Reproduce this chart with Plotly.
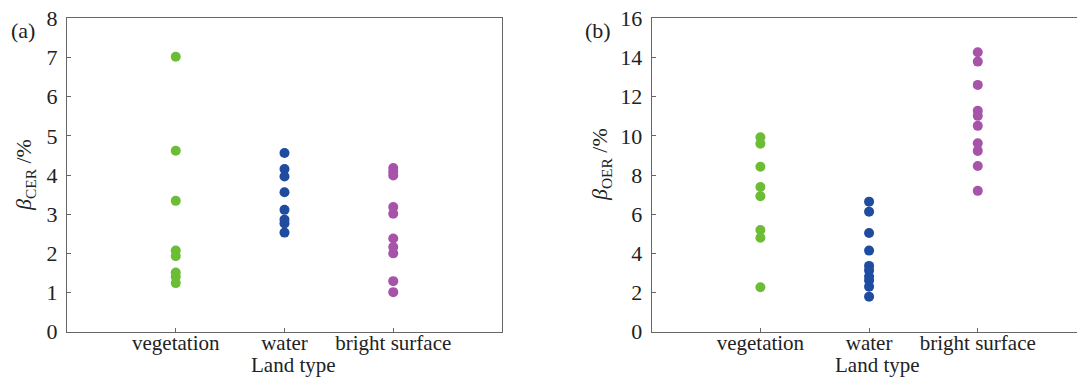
import plotly.graph_objects as go

categories = ["vegetation", "water", "bright surface"]
colors = ["#6cbd35", "#1f4c9e", "#a653a9"]

cer_vegetation = [7.02, 4.62, 3.34, 2.07, 1.93, 1.51, 1.40, 1.24]
cer_water = [4.56, 4.15, 3.96, 3.56, 3.11, 2.86, 2.76, 2.53]
cer_bright = [4.18, 4.08, 3.99, 3.18, 3.01, 2.38, 2.16, 2.00, 1.29, 1.01]

oer_vegetation = [9.93, 9.60, 8.42, 7.39, 6.92, 5.19, 4.80, 2.27]
oer_water = [6.64, 6.13, 5.04, 4.14, 3.36, 3.13, 2.82, 2.62, 2.30, 1.79]
oer_bright = [14.27, 13.79, 12.60, 11.28, 11.02, 10.51, 9.62, 9.23, 8.46, 7.19]

cer_ticks = [0, 1, 2, 3, 4, 5, 6, 7, 8]
oer_ticks = [0, 2, 4, 6, 8, 10, 12, 14, 16]

FONT = "Times New Roman, Liberation Serif, DejaVu Serif, serif"
TXT = "#222222"
LINE = "#666666"

fig = go.Figure()

for cat, col, vals in zip(categories, colors, [cer_vegetation, cer_water, cer_bright]):
    fig.add_trace(go.Scatter(x=[cat] * len(vals), y=vals, mode="markers",
                             marker=dict(color=col, size=10, line=dict(width=0)),
                             xaxis="x", yaxis="y", showlegend=False))
for cat, col, vals in zip(categories, colors, [oer_vegetation, oer_water, oer_bright]):
    fig.add_trace(go.Scatter(x=[cat] * len(vals), y=vals, mode="markers",
                             marker=dict(color=col, size=10, line=dict(width=0)),
                             xaxis="x2", yaxis="y2", showlegend=False))

W, H = 1077, 378
ybot = (H - 331.7) / H
ytop = (H - 18.3) / H

common_x = dict(type="category", categoryorder="array", categoryarray=categories,
                showline=True, linecolor=LINE, linewidth=1.3, mirror=True,
                ticks="inside", ticklen=4, tickcolor=LINE, showgrid=False, zeroline=False,
                tickfont=dict(family=FONT, size=21, color=TXT), ticklabelstandoff=-8,
                automargin=False)
common_y = dict(showline=True, linecolor=LINE, linewidth=1.3,
                ticks="inside", ticklen=4, tickcolor=LINE, showgrid=False, zeroline=False,
                tickfont=dict(family=FONT, size=22, color=TXT), ticklabelstandoff=4,
                automargin=False)

fig.update_layout(
    width=W, height=H,
    margin=dict(l=0, r=0, t=0, b=0, pad=0),
    paper_bgcolor="white", plot_bgcolor="white",
    font=dict(family=FONT, color=TXT),
    xaxis=dict(common_x, domain=[67 / W, 502 / W], range=[-1, 3], anchor="y"),
    yaxis=dict(common_y, domain=[ybot, ytop], range=[0, 8], tickvals=cer_ticks, mirror=True, anchor="x"),
    xaxis2=dict(common_x, domain=[651.7 / W, 1.0], range=[-1, 2.913], anchor="y2"),
    yaxis2=dict(common_y, domain=[ybot, ytop], range=[0, 16], tickvals=oer_ticks, mirror=False, anchor="x2"),
)

annotations = [
    dict(text="(a)", x=23, y=H - 30, ya="middle", size=22),
    dict(text="(b)", x=598, y=H - 30, ya="middle", size=22),
    dict(text="Land type", x=293, y=0, ya="bottom", size=21),
    dict(text="Land type", x=877, y=0, ya="bottom", size=21),
    dict(text="<i>β</i><sub>CER</sub> /%", x=25, y=H - 175, ya="middle", size=22, textangle=-90),
    dict(text="<i>β</i><sub>OER</sub> /%", x=601, y=H - 165, ya="middle", size=22, textangle=-90),
]
anns = []
for a in annotations:
    d = dict(text=a["text"], xref="paper", yref="paper", x=a["x"] / W, y=a["y"] / H,
             xanchor="center", yanchor=a["ya"], showarrow=False,
             font=dict(family=FONT, size=a["size"], color=TXT), borderpad=0)
    if "textangle" in a:
        d["textangle"] = a["textangle"]
    anns.append(d)
fig.update_layout(annotations=anns)

fig.write_html("out.html")
